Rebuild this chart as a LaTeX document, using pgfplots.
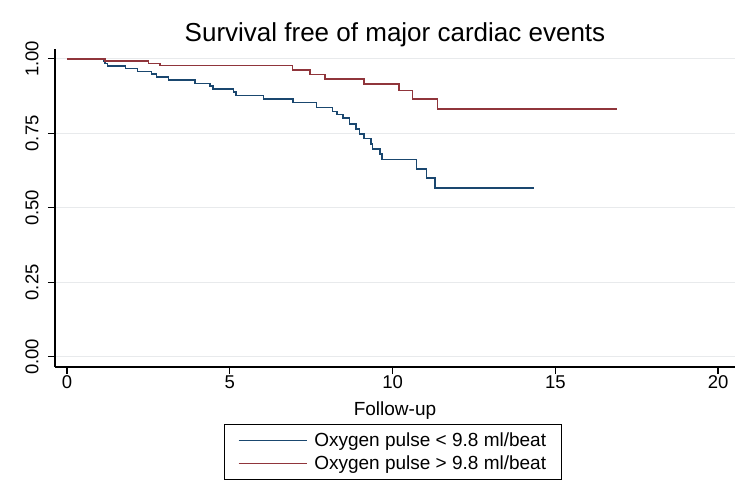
\documentclass[border=0pt]{standalone}
\usepackage{pgfplots}
\pgfplotsset{compat=1.18}
\usepackage{fontspec}
\setmainfont{Liberation Sans}
\definecolor{kmnavy}{RGB}{26,71,111}
\definecolor{kmmaroon}{RGB}{144,53,59}
\definecolor{gridgray}{RGB}{232,234,236}
\newcommand\tkfont{\fontsize{18.5bp}{22bp}\selectfont}
\newcommand\lgfont{\fontsize{19bp}{23bp}\selectfont}
\newcommand\ttlfont{\fontsize{26bp}{30bp}\selectfont}

% Kaplan-Meier estimates (time, survival after the step)
\pgfplotstableread{
t s
0 1
1.12 0.993
1.17 0.985
1.25 0.976
1.80 0.967
2.17 0.957
2.60 0.949
2.75 0.939
3.11 0.929
3.93 0.918
4.39 0.909
4.49 0.899
5.11 0.888
5.19 0.877
6.03 0.865
6.94 0.853
7.67 0.837
8.15 0.823
8.29 0.814
8.47 0.801
8.67 0.782
8.88 0.764
8.98 0.748
9.13 0.732
9.33 0.715
9.38 0.697
9.62 0.680
9.68 0.663
10.74 0.630
11.05 0.600
11.31 0.566
14.33 0.566
}\lowpulse

\pgfplotstableread{
t s
0 1
1.17 0.993
2.50 0.984
2.86 0.977
6.93 0.963
7.47 0.948
7.93 0.933
9.12 0.916
10.20 0.893
10.61 0.866
11.38 0.832
16.89 0.832
}\highpulse

\begin{document}
\begin{tikzpicture}
\path[use as bounding box] (-55bp,-133bp) rectangle (695bp,367bp);
\begin{axis}[
  scale only axis,
  width=680bp, height=318.3bp,
  xmin=-0.37, xmax=20.52,
  ymin=-0.034, ymax=1.034,
  axis x line*=bottom, axis y line*=left,
  axis line style={line width=1.2bp, -},
  tick style={line width=1.2bp, black},
  tick align=outside,
  major tick length=7bp,
  xtick={0,5,10,15,20},
  ytick={0,0.25,0.5,0.75,1},
  ymajorgrids,
  major grid style={line width=1bp, gridgray},
  /pgf/number format/assume math mode=true,
  tick label style={font=\tkfont},
  yticklabel={\pgfmathprintnumber[fixed,fixed zerofill,precision=2]{\tick}},
  yticklabel style={rotate=90, anchor=south, yshift=6bp},
  xticklabel style={anchor=north, yshift=2bp},
  xlabel={Follow-up},
  xlabel style={font=\lgfont, at={(axis description cs:0.5,0)}, anchor=north, yshift=-31bp},
  title={Survival free of major cardiac events},
  title style={font=\ttlfont, at={(axis description cs:0.5,1)}, anchor=center, yshift=8bp},
  legend style={at={(axis description cs:0.497,-0.267)}, anchor=center,
    draw=black, line width=1bp, font=\lgfont, row sep=4bp,
    inner xsep=13bp, inner ysep=6bp,
    /tikz/every odd column/.append style={column sep=5bp}},
  legend cell align=left,
  legend image code/.code={\draw[#1, line width=1.5bp] (0bp,0bp) -- (68bp,0bp);},
]
\addplot[const plot, kmnavy, line width=1.5bp] table[x=t, y=s] {\lowpulse};
\addlegendentry{Oxygen pulse < 9.8 ml/beat}
\addplot[const plot, kmmaroon, line width=1.5bp] table[x=t, y=s] {\highpulse};
\addlegendentry{Oxygen pulse > 9.8 ml/beat}
\end{axis}
\end{tikzpicture}
\end{document}
